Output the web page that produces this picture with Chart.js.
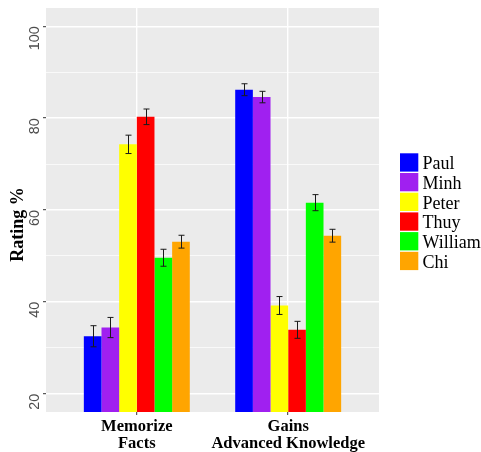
<!DOCTYPE html>
<html>
<head>
<meta charset="utf-8">
<script src="https://cdn.jsdelivr.net/npm/chart.js"></script>
<style>
    html, body { margin: 0; padding: 0; background: #fff; }
    #wrap { width: 481px; height: 452px; }
</style>
</head>
<body>
<div id="wrap"><canvas id="RatingChart"></canvas></div>
<script>
const categories = [['Memorize', 'Facts'], ['Gains', 'Advanced Knowledge']];
const xPos = [1, 2];
const people = ['Paul', 'Minh', 'Peter', 'Thuy', 'William', 'Chi'];
const memorize = [32.5, 34.4, 74.3, 80.3, 49.6, 53.1];
const memorizeErr = [2.3, 2.2, 2.0, 1.7, 1.85, 1.4];
const gains = [86.2, 84.6, 39.2, 33.9, 61.6, 54.4];
const gainsErr = [1.3, 1.25, 1.95, 1.85, 1.75, 1.4];
const yTicks = [20, 30, 40, 50, 60, 70, 80, 90, 100];
const colors = ['#0000FF', '#A020F0', '#FFFF00', '#FF0000', '#00FF00', '#FFA500'];

// grey ggplot panel behind everything
const panelBg = {
    id: 'panelBg',
    beforeDraw(chart) {
        const { ctx, chartArea: a } = chart;
        ctx.save();
        ctx.fillStyle = '#EBEBEB';
        ctx.fillRect(a.left, a.top, a.right - a.left, a.bottom - a.top);
        ctx.restore();
    }
};

const errorBars = {
    id: 'errorBars',
    afterDatasetsDraw(chart) {
        const { ctx } = chart;
        const y = chart.scales.y;
        ctx.save();
        ctx.strokeStyle = '#1A1A1A';
        ctx.lineWidth = 1;
        chart.data.datasets.forEach((ds, i) => {
            chart.getDatasetMeta(i).data.forEach((bar, j) => {
                const v = ds.data[j].y;
                const top = y.getPixelForValue(v + ds.err[j]);
                const bot = y.getPixelForValue(v - ds.err[j]);
                const x = Math.round(bar.x) + 0.5;
                ctx.beginPath();
                ctx.moveTo(x, top); ctx.lineTo(x, bot);
                ctx.moveTo(x - 3, top); ctx.lineTo(x + 3, top);
                ctx.moveTo(x - 3, bot); ctx.lineTo(x + 3, bot);
                ctx.stroke();
            });
        });
        ctx.restore();
    }
};

// legend + y title drawn by hand to get the ggplot spacing
const extras = {
    id: 'extras',
    afterDraw(chart) {
        const { ctx } = chart;
        ctx.save();
        chart.data.datasets.forEach((ds, i) => {
            const top = 153.3 + i * 19.7;
            ctx.fillStyle = ds.backgroundColor;
            ctx.fillRect(400, top, 18.3, 18.3);
            ctx.fillStyle = '#000';
            ctx.font = '18px "Liberation Serif"';
            ctx.textAlign = 'left';
            ctx.textBaseline = 'alphabetic';
            ctx.fillText(ds.label, 422.5, top + 16);
        });
        ctx.translate(18.5, 224.5);
        ctx.rotate(-Math.PI / 2);
        ctx.font = 'bold 18px "Liberation Serif"';
        ctx.textAlign = 'center';
        ctx.textBaseline = 'middle';
        ctx.fillStyle = '#000';
        ctx.fillText('Rating %', 0, 0);
        ctx.restore();
    }
};

const datasets = people.map((name, i) => ({
    label: name,
    data: [{ x: xPos[0], y: memorize[i] }, { x: xPos[1], y: gains[i] }],
    err: [memorizeErr[i], gainsErr[i]],
    backgroundColor: colors[i],
    borderWidth: 0,
    categoryPercentage: 0.7,
    barPercentage: 1
}));

new Chart(document.getElementById('RatingChart'), {
    type: 'bar',
    data: { datasets: datasets },
    options: {
        responsive: true,
        maintainAspectRatio: false,
        animation: false,
        layout: { padding: { top: 8, right: 102, left: 0, bottom: 0 } },
        plugins: {
            legend: { display: false },
            tooltip: { enabled: false }
        },
        scales: {
            x: {
                type: 'linear',
                min: 0.4,
                max: 2.6,
                offset: false,
                afterBuildTicks: (s) => { s.ticks = xPos.map(v => ({ value: v })); },
                afterFit: (s) => { s.height = 40; s.paddingLeft = 0; s.paddingRight = 0; },
                ticks: {
                    callback: (v) => categories[xPos.indexOf(v)] || '',
                    font: { family: 'Liberation Serif', size: 16.5, weight: 'bold', lineHeight: 1 },
                    color: '#000',
                    padding: 3.5,
                    maxRotation: 0,
                    autoSkip: false
                },
                grid: { color: '#fff', lineWidth: 1.4, tickColor: '#333', tickLength: 3, tickWidth: 1, offset: false },
                border: { display: false }
            },
            y: {
                min: 16,
                max: 104,
                afterBuildTicks: (s) => { s.ticks = yTicks.map(v => ({ value: v })); },
                afterFit: (s) => { s.width = 46; s.paddingTop = 0; s.paddingBottom = 0; },
                ticks: {
                    callback: (v) => v % 20 === 0 ? String(v) : '',
                    minRotation: 90,
                    maxRotation: 90,
                    font: { family: 'Liberation Sans', size: 14.4 },
                    color: '#4D4D4D',
                    padding: 7.7
                },
                grid: {
                    color: '#fff',
                    lineWidth: (c) => c.tick && c.tick.value % 20 === 0 ? 1.4 : 0.7,
                    tickColor: (c) => c.tick && c.tick.value % 20 === 0 ? '#333' : 'rgba(0,0,0,0)',
                    tickLength: 3,
                    tickWidth: 1
                },
                border: { display: false }
            }
        }
    },
    plugins: [panelBg, errorBars, extras]
});
</script>
</body>
</html>
